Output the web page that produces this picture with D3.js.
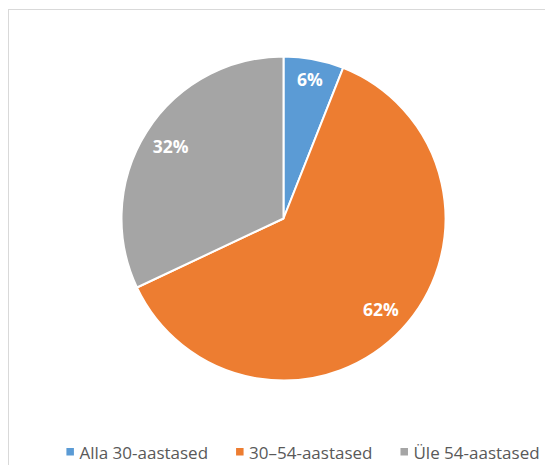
<!DOCTYPE html>
<html>
<head>
<meta charset="utf-8">
<script src="https://cdn.jsdelivr.net/npm/d3@7"></script>
<style>
  body { margin: 0; background: #fff; }
  svg { display: block; font-family: "Open Sans", sans-serif; }
</style>
</head>
<body>
<div class="chart"></div>
<script>
const categories = ['Alla 30-aastased', '30–54-aastased', 'Üle 54-aastased'];
const shares = [6, 62, 32];
const colors = ['#5B9BD5', '#ED7D31', '#A5A5A5'];

const width = 545,
  height = 465,
  cx = 283.5,
  cy = 218.5,
  radius = 162;

const svg = d3
  .select('.chart')
  .append('svg')
  .attr('width', width)
  .attr('height', height);

// chart frame, cut off at the right and bottom like the screenshot
svg
  .append('rect')
  .attr('x', 8.5)
  .attr('y', 9.5)
  .attr('width', width)
  .attr('height', height)
  .attr('fill', '#fff')
  .attr('stroke', '#d9d9d9');

const data = categories.map((name, i) => ({ name, value: shares[i], color: colors[i] }));

const pie = d3
  .pie()
  .sort(null)
  .value(d => d.value);

const arc = d3.arc().innerRadius(0).outerRadius(radius);

const g = svg.append('g').attr('transform', `translate(${cx},${cy})`);
const arcs = pie(data);

g.selectAll('.slice')
  .data(arcs)
  .enter()
  .append('path')
  .attr('class', 'slice')
  .attr('d', arc)
  .attr('fill', d => d.data.color)
  .attr('stroke', '#fff')
  .attr('stroke-width', 2)
  .attr('stroke-linejoin', 'round');

// small slices get their label pushed further out
const labelArc = d => {
  const f = d.data.value < 10 ? 0.87 : 0.825;
  return d3.arc().innerRadius(radius * f).outerRadius(radius * f).centroid(d);
};

g.selectAll('.label')
  .data(arcs)
  .enter()
  .append('text')
  .attr('class', 'label')
  .attr('transform', d => `translate(${labelArc(d)})`)
  .attr('text-anchor', 'middle')
  .attr('dy', '0.36em')
  .attr('fill', '#fff')
  .style('font-size', '17.5px')
  .style('font-weight', 700)
  .text(d => `${d.data.value}%`);

// legend
const legend = svg.append('g').attr('class', 'legend');
const items = legend
  .selectAll('g')
  .data(data)
  .enter()
  .append('g');

items
  .append('rect')
  .attr('width', 7.5)
  .attr('height', 7.5)
  .attr('y', -11)
  .attr('fill', d => d.color);

items
  .append('text')
  .attr('x', 13)
  .attr('fill', '#595959')
  .style('font-size', '17px')
  .text(d => d.name);

const gap = 28;
let x = 0;
const offsets = [];
items.each(function() {
  offsets.push(x);
  x += 13 + this.querySelector('text').getComputedTextLength() + gap;
});
const total = x - gap;
const start = 303 - total / 2;
items.attr('transform', (d, i) => `translate(${start + offsets[i]}, 459)`);
</script>
</body>
</html>
